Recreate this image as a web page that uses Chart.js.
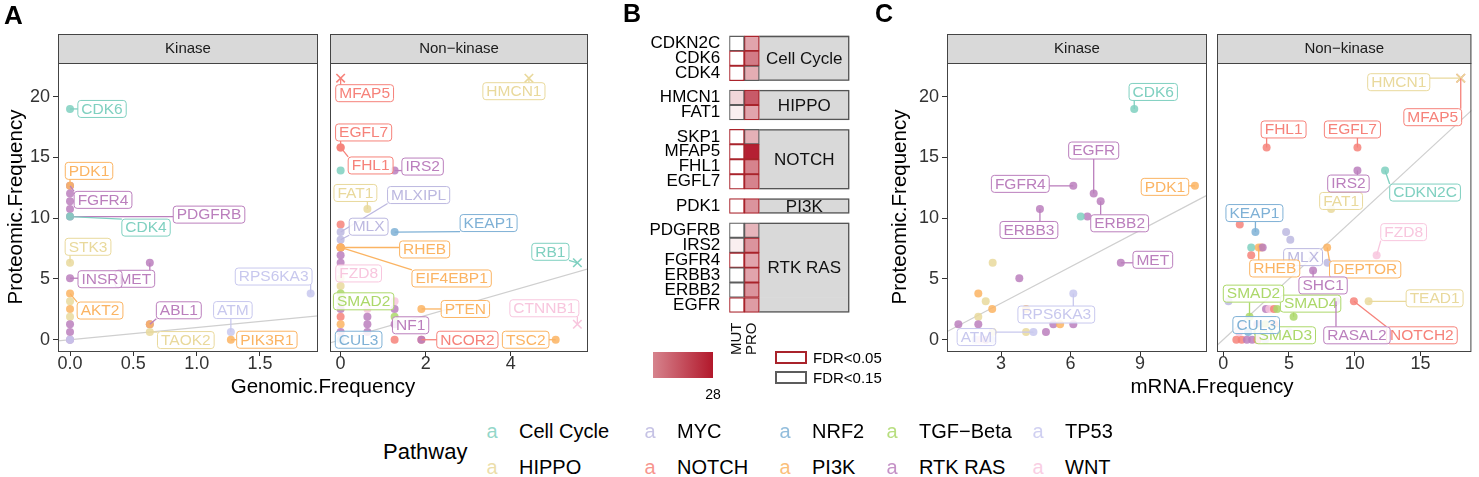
<!DOCTYPE html>
<html><head><meta charset="utf-8">
<script src="https://cdn.jsdelivr.net/npm/chart.js@4.4.1/dist/chart.umd.min.js"></script>
<style>
body{margin:0;background:#fff;}
#wrap{position:relative;width:1479px;height:477px;overflow:hidden;font-family:'Liberation Sans',Arial,Helvetica,sans-serif;color:#000;background:#fff;}
canvas{position:absolute;}
.t{position:absolute;white-space:nowrap;line-height:1;}
</style></head><body><div id="wrap">
<canvas id="aKin" width="330" height="400" style="left:0;top:0"></canvas>
<canvas id="aNon" width="280" height="400" style="left:320px;top:0"></canvas>
<canvas id="bMat" width="300" height="400" style="left:580px;top:0"></canvas>
<canvas id="cKin" width="330" height="400" style="left:890px;top:0"></canvas>
<canvas id="cNon" width="272" height="400" style="left:1207px;top:0"></canvas>
</div>
<script>
// ---------------- DATA ----------------
// Panel A, Kinase
const aKinGenes = ['CDK6','FGFR4','PDK1','EGFR','ERBB2','ERBB3','PDGFRB','CDK4','STK3','MET','INSR','AKT2','RPS6KA3','','','','','','','','ABL1','','TAOK2','ATM','PIK3R1'];
const aKinPathways = ['Cell Cycle','RTK RAS','PI3K','RTK RAS','RTK RAS','RTK RAS','RTK RAS','Cell Cycle','HIPPO','RTK RAS','RTK RAS','PI3K','TP53','HIPPO','PI3K','HIPPO','RTK RAS','RTK RAS','RTK RAS','TP53','RTK RAS','PI3K','HIPPO','TP53','PI3K'];
const aKinGenomic = [0,0,0,0,0,0,0,0,0,0.63,0,0,1.9,0,0,0,0,0,0,0,0.63,0.63,0.63,1.27,1.27];
const aKinProteomic = [18.99,12.66,12.66,12.03,11.39,10.76,10.13,10.13,6.33,6.33,5.06,3.8,3.8,3.16,2.53,1.9,1.27,0.63,0,0,1.27,1.27,0.63,0.63,0];
// Panel A, Non-kinase
const aNonGenes = ['MFAP5','HMCN1','FHL1','EGFL7','CDKN2C','IRS2','FAT1','','MLXIPL','KEAP1','MLX','','','RHEB','EIF4EBP1','','','RB1','FZD8','','','','SMAD2','','','','','CUL3','','','','','','','','NF1','','PTEN','NCOR2','','TSC2','CTNNB1'];
const aNonPathways = ['NOTCH','HIPPO','NOTCH','NOTCH','Cell Cycle','RTK RAS','HIPPO','NOTCH','MYC','NRF2','MYC','RTK RAS','NOTCH','PI3K','PI3K','RTK RAS','RTK RAS','Cell Cycle','WNT','HIPPO','HIPPO','TGF-Beta','TGF-Beta','RTK RAS','NOTCH','PI3K','RTK RAS','NRF2','WNT','RTK RAS','RTK RAS','RTK RAS','WNT','RTK RAS','TGF-Beta','RTK RAS','NOTCH','PI3K','NOTCH','RTK RAS','PI3K','WNT'];
const aNonGenomic = [0,4.43,0,0,0,1.27,0.63,0,0,1.27,0,0,0,0,0,0,0,5.57,0,0,0,0,0,0,0,0,0,0,0.63,0.63,0.63,0.63,1.27,1.27,1.27,1.27,1.27,1.9,1.9,1.9,5.06,5.57];
const aNonProteomic = [21.52,21.52,15.82,15.82,13.92,13.92,10.76,9.49,8.86,8.86,8.23,7.59,7.59,7.59,7.59,6.96,6.33,6.33,5.7,5.06,4.43,3.8,3.16,2.53,1.9,1.27,0.63,0,2.53,1.9,1.27,0.63,3.16,2.53,1.9,1.27,0,2.53,0,0,0,1.27];
const aNonCross = ['MFAP5','HMCN1','RB1','CTNNB1'];
// Panel C, Kinase
const cKinGenes = ['CDK6','FGFR4','EGFR','ERBB2','ERBB3','PDGFRB','CDK4','PDK1','MET','INSR','STK3','AKT2','RPS6KA3','','','','','','','','','','','','ATM','','','','',''];
const cKinPathways = ['Cell Cycle','RTK RAS','RTK RAS','RTK RAS','RTK RAS','RTK RAS','Cell Cycle','PI3K','RTK RAS','RTK RAS','HIPPO','PI3K','TP53','HIPPO','PI3K','PI3K','HIPPO','RTK RAS','RTK RAS','RTK RAS','PI3K','RTK RAS','RTK RAS','HIPPO','TP53','HIPPO','TP53','WNT','RTK RAS','TP53'];
const cKinMrna = [8.75,6.12,7.0,7.3,4.68,6.73,6.44,11.37,8.17,3.79,2.64,2.02,6.12,2.34,2.62,4.08,2.02,1.16,2.02,5.26,5.55,6.12,4.94,4.08,4.4,2.64,1.9,2.1,2.35,2.6];
const cKinProteomic = [18.99,12.66,12.03,11.39,10.76,10.13,10.13,12.66,6.33,5.06,6.33,3.8,3.8,3.16,2.53,2.53,1.9,1.27,1.27,1.27,1.27,1.27,0.63,0.63,0.63,0.63,0,0,0,0];
// Panel C, Non-kinase
const cNonGenes = ['MFAP5','HMCN1','FHL1','EGFL7','IRS2','CDKN2C','FAT1','','KEAP1','','','','RHEB','','','','DEPTOR','MLX','','SHC1','FZD8','TEAD1','NOTCH2','RASAL2','','SMAD4','SMAD2','SMAD3','CUL3','','','','','','','','','','','','','','','',''];
const cNonPathways = ['NOTCH','HIPPO','NOTCH','NOTCH','RTK RAS','Cell Cycle','HIPPO','NOTCH','NRF2','MYC','MYC','Cell Cycle','PI3K','PI3K','RTK RAS','NOTCH','PI3K','MYC','MYC','RTK RAS','WNT','HIPPO','NOTCH','RTK RAS','MYC','TGF-Beta','TGF-Beta','TGF-Beta','NRF2','RTK RAS','WNT','NOTCH','TGF-Beta','WNT','RTK RAS','NOTCH','NOTCH','NOTCH','RTK RAS','RTK RAS','NOTCH','TP53','WNT','TGF-Beta','TP53'];
const cNonMrna = [18.05,18.05,3.3,10.2,10.2,12.3,8.2,1.26,2.45,4.78,5.1,2.13,2.7,2.9,3.0,2.13,7.9,6.83,7.93,6.83,11.66,11.05,9.93,8.57,0.4,5.35,2.0,3.2,1.9,3.25,3.5,3.86,4.1,1.5,2.6,3.9,1.0,1.4,1.8,2.2,2.6,3.2,1.2,2.6,5.0];
const cNonProteomic = [21.52,21.52,15.82,15.82,13.92,13.92,10.76,9.49,8.86,8.86,8.23,7.59,7.59,7.59,7.59,6.96,7.59,6.96,6.33,5.7,6.96,3.16,3.16,3.16,3.16,1.9,1.9,1.27,0.63,2.53,2.53,2.53,2.53,1.27,1.27,1.27,0,0,0,0,0,0,0.63,0.63,0.63];
const cNonCross = ['MFAP5','HMCN1','MLX'];
// Axis ticks
const yTicks = [0,5,10,15,20];
const aKinXTicks = [0,0.5,1,1.5]; const aKinXTickLabels = ['0.0','0.5','1.0','1.5'];
const aNonXTicks = [0,2,4]; const aNonXTickLabels = ['0','2','4'];
const cKinXTicks = [3,6,9]; const cKinXTickLabels = ['3','6','9'];
const cNonXTicks = [0,5,10,15]; const cNonXTickLabels = ['0','5','10','15'];
// Panel B
const bGenes = ['CDKN2C','CDK6','CDK4','HMCN1','FAT1','SKP1','MFAP5','FHL1','EGFL7','PDK1','PDGFRB','IRS2','FGFR4','ERBB3','ERBB2','EGFR'];
const bGroups = ['Cell Cycle','Cell Cycle','Cell Cycle','HIPPO','HIPPO','NOTCH','NOTCH','NOTCH','NOTCH','PI3K','RTK RAS','RTK RAS','RTK RAS','RTK RAS','RTK RAS','RTK RAS'];
const bMut = [0,0,0,5,2,0,0,0,0,0,0,2,0,0,0,0];
const bPro = [11,16,10,20,11,9.5,27,15,15,13,9,13,11,11,13,12];
const bMutFdr = ['0.15','0.05','0.05','0.15','0.15','0.05','0.05','0.05','0.05','0.05','0.15','0.15','0.05','0.15','0.15','0.05'];
const bProFdr = ['0.05','0.05','0.15','0.05','0.05','0.15','0.05','0.05','0.05','0.05','0.15','0.05','0.05','0.05','0.05','0.05'];
const bScaleMax = 28;
// Legend
const legendRow1 = ['Cell Cycle','MYC','NRF2','TGF-Beta','TP53'];
const legendRow2 = ['HIPPO','NOTCH','PI3K','RTK RAS','WNT'];

// ---------------- LAYOUT / STYLE ----------------
const aKinLabelOffsets = {CDK6:[32,0],PDK1:[19,-15],FGFR4:[33,14],PDGFRB:[139,-2],CDK4:[76,11],STK3:[18,-16],MET:[-15,16],INSR:[30,1],RPS6KA3:[-37,-17],AKT2:[30,17],ABL1:[29,-14],ATM:[2,-22],TAOK2:[36,8],PIK3R1:[36,0]};
const aNonLabelOffsets = {MFAP5:[24,15],HMCN1:[-15,13],EGFL7:[23,-15],FHL1:[30,18],IRS2:[28,-4],FAT1:[-12,-16],MLXIPL:[78,-37],MLX:[28,-13],KEAP1:[94,-9],RHEB:[84,2],EIF4EBP1:[111,31],FZD8:[18,3],SMAD2:[23,0],PTEN:[44,0],NF1:[16,1],CUL3:[18,0],NCOR2:[46,0],TSC2:[-30,0],RB1:[-27,-11],CTNNB1:[-33,-16]};
const cKinLabelOffsets = {CDK6:[19,-17],EGFR:[0,-43],FGFR4:[-53,-2],ERBB3:[-11,21],ERBB2:[19,22],PDK1:[-30,1],MET:[32,-3],RPS6KA3:[-17,21],ATM:[-57,5]};
const cNonLabelOffsets = {HMCN1:[-62,4],MFAP5:[-28,39],FHL1:[17,-18],EGFL7:[-5,-18],FAT1:[10,-8],IRS2:[-9,13],CDKN2C:[40,22],KEAP1:[-1,-19],FZD8:[27,-23],MLX:[-10,2],DEPTOR:[38,22],RHEB:[16,21],SHC1:[10,15],TEAD1:[66,-3],SMAD4:[17,-13],SMAD2:[4,-23],SMAD3:[20,11],CUL3:[8,-7],NOTCH2:[68,34],RASAL2:[21,34]};

const pathwayColors = {'Cell Cycle':'#7fd0c0','HIPPO':'#e9d99c','MYC':'#bcb8e0','NOTCH':'#f6827a','NRF2':'#7fb1d6','PI3K':'#fbb463','RTK RAS':'#bb7fbd','TGF-Beta':'#acd86a','TP53':'#c8c8ee','WNT':'#f8c6de'};
const FONT = "'Liberation Sans', Arial, Helvetica, sans-serif";
Chart.defaults.font.family = FONT;
function rgba(hex,a){const n=parseInt(hex.slice(1),16);return `rgba(${n>>16&255},${n>>8&255},${n&255},${a})`;}

const panelPlugin = {
  id:'panel',
  beforeDraw(chart,args,opts){
    if(!opts.strip) return;
    const ctx=chart.ctx, ca=chart.chartArea;
    ctx.save();
    ctx.fillStyle='#d9d9d9'; ctx.fillRect(ca.left, ca.top-29, ca.right-ca.left, 29);
    ctx.strokeStyle='#444'; ctx.lineWidth=1;
    ctx.strokeRect(ca.left+0.5, ca.top-29+0.5, ca.right-ca.left-1, 29);
    ctx.fillStyle='#1a1a1a'; ctx.font=`15px ${FONT}`; ctx.textAlign='center'; ctx.textBaseline='middle';
    ctx.fillText(opts.strip, (ca.left+ca.right)/2, ca.top-14);
    ctx.restore();
  },
  afterDraw(chart,args,opts){
    if(!opts.strip) return;
    const ctx=chart.ctx, ca=chart.chartArea;
    ctx.save(); ctx.strokeStyle='#444'; ctx.lineWidth=1;
    ctx.strokeRect(ca.left+0.5, ca.top+0.5, ca.right-ca.left-1, ca.bottom-ca.top-1);
    ctx.restore();
  }
};
const repelPlugin = {
  id:'repel',
  afterDatasetsDraw(chart,args,opts){
    if(!opts.offsets) return;
    const meta=chart.getDatasetMeta(0), ctx=chart.ctx, ca=chart.chartArea;
    ctx.save();
    ctx.beginPath(); ctx.rect(ca.left, ca.top, ca.right-ca.left, ca.bottom-ca.top); ctx.clip();
    ctx.font=`15.5px ${FONT}`; ctx.textAlign='center'; ctx.textBaseline='middle';
    for(const g of Object.keys(opts.offsets)){
      const i=opts.genes.indexOf(g); if(i<0) continue;
      const el=meta.data[i]; const [dx,dy]=opts.offsets[g];
      const col=pathwayColors[opts.paths[i]];
      const cx=el.x+dx, cy=el.y+dy;
      const w=ctx.measureText(g).width+7, h=17;
      const bx=cx-w/2, by=cy-h/2;
      const ex=Math.min(Math.max(el.x,bx),bx+w), ey=Math.min(Math.max(el.y,by),by+h);
      if(Math.hypot(ex-el.x,ey-el.y)>3){
        ctx.strokeStyle=col; ctx.lineWidth=1.3; ctx.beginPath(); ctx.moveTo(el.x,el.y); ctx.lineTo(ex,ey); ctx.stroke();
      }
      ctx.beginPath();
      if(ctx.roundRect) ctx.roundRect(bx,by,w,h,3); else ctx.rect(bx,by,w,h);
      ctx.fillStyle='rgba(255,255,255,0.86)'; ctx.fill();
      ctx.strokeStyle=col; ctx.lineWidth=1; ctx.stroke();
      ctx.fillStyle=col; ctx.fillText(g,cx,cy+0.5);
    }
    ctx.restore();
  }
};
Chart.register(panelPlugin, repelPlugin);

const Y_MIN=-1.01, Y_MAX=22.77;
function scatterPanel(id,d){
  const isCross=d.genes.map(g=>g!==''&&d.cross.includes(g));
  const yScale={type:'linear',display:d.showY,min:Y_MIN,max:Y_MAX,
    afterBuildTicks:s=>{s.ticks=yTicks.map(v=>({value:v}));},
    ticks:{font:{size:18,lineHeight:1},color:'#333',padding:3,autoSkip:false},
    grid:{drawOnChartArea:false,tickLength:5,color:'#333',lineWidth:1},
    border:{display:false}};
  if(d.showY) yScale.afterFit=s=>{s.width=d.yWidth;};
  new Chart(document.getElementById(id),{
    type:'scatter',
    data:{datasets:[
      {data:d.xs.map((x,i)=>({x,y:d.ys[i]})),
       pointRadius:isCross.map(c=>c?6:4),
       pointStyle:isCross.map(c=>c?'crossRot':'circle'),
       pointBackgroundColor:d.paths.map(p=>rgba(pathwayColors[p],0.85)),
       pointBorderColor:d.paths.map(p=>pathwayColors[p]),
       pointBorderWidth:isCross.map(c=>c?1.6:0),
       order:0},
      {type:'line',data:[d.xMin-5,d.xMax+5].map(v=>({x:v,y:v})),borderColor:'#cfcfcf',borderWidth:1.2,pointRadius:0,order:1}
    ]},
    options:{responsive:false,animation:false,events:[],
      layout:{padding:d.pad},
      plugins:{legend:{display:false},tooltip:{enabled:false},
        panel:{strip:d.strip},repel:{genes:d.genes,paths:d.paths,offsets:d.offsets}},
      scales:{
        x:{type:'linear',min:d.xMin,max:d.xMax,
          afterBuildTicks:s=>{s.ticks=d.xTicks.map(v=>({value:v}));},
          afterFit:s=>{s.height=48;},
          ticks:{callback:(v,i)=>d.xTickLabels[i],font:{size:18,lineHeight:1},color:'#333',padding:-1,maxRotation:0,autoSkip:false},
          grid:{drawOnChartArea:false,tickLength:4,color:'#333',lineWidth:1},
          border:{display:false}},
        y:yScale
      }}
  });
}

scatterPanel('aKin',{genes:aKinGenes,paths:aKinPathways,xs:aKinGenomic,ys:aKinProteomic,cross:[],offsets:aKinLabelOffsets,
  xMin:-0.095,xMax:1.958,xTicks:aKinXTicks,xTickLabels:aKinXTickLabels,showY:true,yWidth:58,strip:'Kinase',pad:{top:63,right:12,left:0,bottom:0}});
scatterPanel('aNon',{genes:aNonGenes,paths:aNonPathways,xs:aNonGenomic,ys:aNonProteomic,cross:aNonCross,offsets:aNonLabelOffsets,
  xMin:-0.25,xMax:5.82,xTicks:aNonXTicks,xTickLabels:aNonXTickLabels,showY:false,strip:'Non\u2212kinase',pad:{top:63,right:12,left:10,bottom:0}});
scatterPanel('cKin',{genes:cKinGenes,paths:cKinPathways,xs:cKinMrna,ys:cKinProteomic,cross:[],offsets:cKinLabelOffsets,
  xMin:0.669,xMax:11.89,xTicks:cKinXTicks,xTickLabels:cKinXTickLabels,showY:true,yWidth:57,strip:'Kinase',pad:{top:63,right:13,left:0,bottom:0}});
scatterPanel('cNon',{genes:cNonGenes,paths:cNonPathways,xs:cNonMrna,ys:cNonProteomic,cross:cNonCross,offsets:cNonLabelOffsets,
  xMin:-0.47,xMax:18.86,xTicks:cNonXTicks,xTickLabels:cNonXTickLabels,showY:false,strip:'Non\u2212kinase',pad:{top:63,right:2,left:10,bottom:0}});

// ---------------- PANEL B ----------------
const GROUP_GAP=0.625;
const bRowPos=[]; {let p=0; bGroups.forEach((g,i)=>{ if(i>0&&g!==bGroups[i-1]) p+=GROUP_GAP; bRowPos.push(p); p+=1; });}
function heat(v){const t=Math.min(v/bScaleMax,1);const c0=[255,255,255],c1=[178,24,43];return `rgb(${c0.map((a,k)=>Math.round(a+(c1[k]-a)*t)).join(',')})`;}
function fdrColor(f){return f==='0.05'?'#a9232b':'#5c5c5c';}
const matrixPlugin={
  id:'matrix',
  afterDatasetsDraw(chart){
    if(chart.canvas.id!=='bMat') return;
    const ctx=chart.ctx, xs=chart.scales.x, ys=chart.scales.y;
    ctx.save();
    const groups=[...new Set(bGroups)];
    groups.forEach(g=>{
      const idx=bGroups.map((v,i)=>v===g?i:-1).filter(i=>i>=0);
      const top=ys.getPixelForValue(bRowPos[idx[0]]-0.5), bot=ys.getPixelForValue(bRowPos[idx[idx.length-1]]+0.5);
      const l=xs.getPixelForValue(2), r=xs.getPixelForValue(8);
      ctx.strokeStyle='#555'; ctx.lineWidth=1.3;
      ctx.beginPath(); ctx.moveTo(l,top+0.6); ctx.lineTo(r-0.6,top+0.6); ctx.lineTo(r-0.6,bot-0.6); ctx.lineTo(l,bot-0.6); ctx.stroke();
      ctx.fillStyle='#111'; ctx.font=`17px ${FONT}`; ctx.textAlign='center'; ctx.textBaseline='middle';
      ctx.fillText(g,(l+r)/2,(top+bot)/2+1);
    });
    const yb=ys.getPixelForValue(bRowPos[bRowPos.length-1]+0.5)+10;
    ctx.font=`15px ${FONT}`; ctx.fillStyle='#111'; ctx.textAlign='right'; ctx.textBaseline='middle';
    [['MUT',0.5],['PRO',1.5]].forEach(([t,c])=>{
      ctx.save(); ctx.translate(xs.getPixelForValue(c),yb); ctx.rotate(-Math.PI/2); ctx.fillText(t,0,0); ctx.restore();
    });
    ctx.restore();
  }
};
Chart.register(matrixPlugin);
const barCommon={grouped:false,barPercentage:1,categoryPercentage:1,borderSkipped:false};
new Chart(document.getElementById('bMat'),{
  type:'bar',
  data:{datasets:[
    Object.assign({data:bGenes.map((g,i)=>({y:bRowPos[i],x:[0,1]})),backgroundColor:bMut.map(heat),borderColor:bMutFdr.map(fdrColor),borderWidth:1.3},barCommon),
    Object.assign({data:bGenes.map((g,i)=>({y:bRowPos[i],x:[1,2]})),backgroundColor:bPro.map(heat),borderColor:bProFdr.map(fdrColor),borderWidth:1.3},barCommon),
    Object.assign({data:bGenes.map((g,i)=>({y:bRowPos[i],x:[2,8]})),backgroundColor:'#d9d9d9',borderWidth:0},barCommon)
  ]},
  options:{indexAxis:'y',responsive:false,animation:false,events:[],
    layout:{padding:{top:26.7,right:30.7,bottom:78.3,left:0}},
    plugins:{legend:{display:false},tooltip:{enabled:false}},
    scales:{
      x:{type:'linear',min:0,max:8,display:false},
      y:{type:'linear',reverse:true,min:-0.5,max:bRowPos[bRowPos.length-1]+0.5,
        afterBuildTicks:s=>{s.ticks=bRowPos.map(v=>({value:v}));},
        afterFit:s=>{s.width=149.3;},
        ticks:{callback:(v,i)=>bGenes[i],font:{size:17,lineHeight:1},color:'#000',padding:9,autoSkip:false},
        grid:{display:false,drawTicks:false},border:{display:false}}
    }}
});

// ---------------- HTML TEXT ----------------
const wrap=document.getElementById('wrap');
function addText(txt,x,y,css){const d=document.createElement('div');d.className='t';d.textContent=txt;d.style.left=x+'px';d.style.top=y+'px';d.style.cssText+=css||'';wrap.appendChild(d);return d;}
const ctr='transform:translate(-50%,-50%);';
addText('A',4,2,'font-weight:bold;font-size:26px;');
addText('B',623,1,'font-weight:bold;font-size:25px;');
addText('C',875,1,'font-weight:bold;font-size:25px;');
addText('Proteomic.Frequency',15,207,'font-size:20.5px;transform:translate(-50%,-50%) rotate(-90deg);');
addText('Proteomic.Frequency',899,207,'font-size:20.5px;transform:translate(-50%,-50%) rotate(-90deg);');
addText('Genomic.Frequency',323,386,'font-size:20.5px;'+ctr);
addText('mRNA.Frequency',1212,386,'font-size:20.5px;'+ctr);
// colour bar and FDR legend
const grad=document.createElement('div');
grad.style.cssText=`position:absolute;left:653px;top:352px;width:60px;height:26px;background:linear-gradient(to right, ${heat(15)}, ${heat(28)});`;
wrap.appendChild(grad);
addText(String(bScaleMax),713,394,'font-size:14px;'+ctr);
const fdrLegend=[['FDR<0.05','0.05',357],['FDR<0.15','0.15',377]];
fdrLegend.forEach(([t,f,y])=>{
  const b=document.createElement('div');
  b.style.cssText=`position:absolute;left:775px;top:${y-6.5}px;width:28px;height:9px;border:2px solid ${fdrColor(f)};background:#fff;`;
  wrap.appendChild(b);
  addText(t,813,y,'font-size:15px;transform:translateY(-50%);');
});
// pathway legend
addText('Pathway',383,452,'font-size:22px;transform:translateY(-50%);');
const legGlyphX=[492,650,785,892,1038], legTextX=[519,677,812,919,1065], legRowY=[431,467];
[legendRow1,legendRow2].forEach((row,r)=>{
  row.forEach((p,k)=>{
    addText('a',legGlyphX[k],legRowY[r],`font-size:20px;color:${rgba(pathwayColors[p],0.85)};`+ctr);
    addText(p.replace('-','\u2212'),legTextX[k],legRowY[r],'font-size:20px;transform:translateY(-50%);');
  });
});
</script></body></html>
